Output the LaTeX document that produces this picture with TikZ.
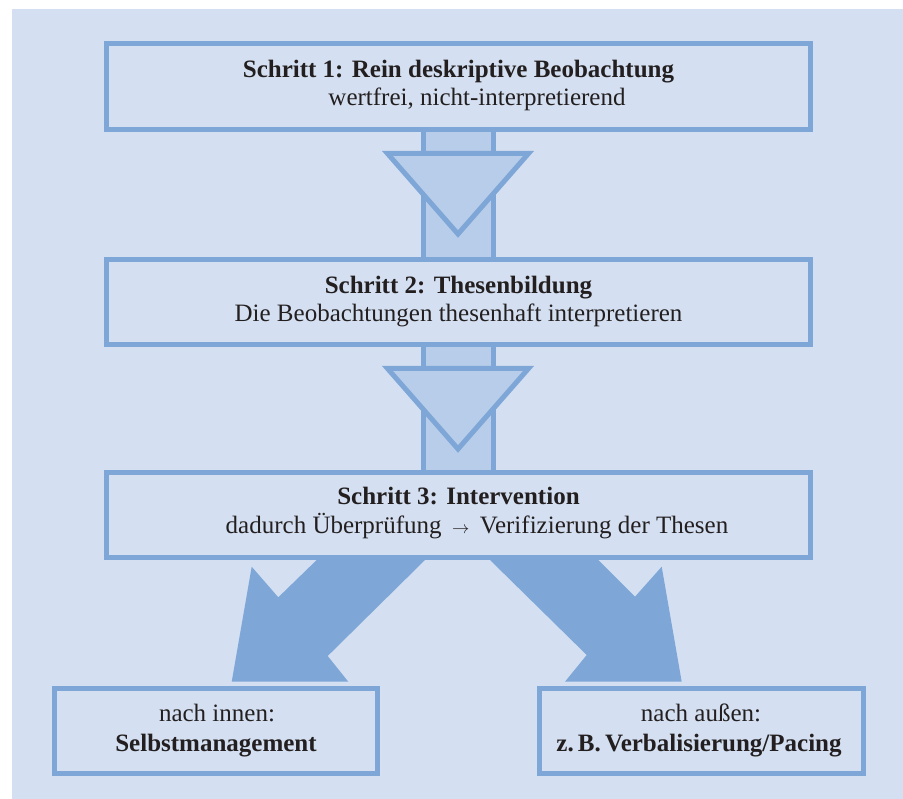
\documentclass[tikz,border=0pt]{standalone}
\usepackage{fontspec}
\setmainfont{Liberation Serif}
\definecolor{bgc}{HTML}{D4E0F1}
\definecolor{bordc}{HTML}{7EA7D8}
\definecolor{stemc}{HTML}{B8CDE9}
\definecolor{txtc}{HTML}{231F20}
\begin{document}
\begin{tikzpicture}[x=1pt,y=-1pt,
  box/.style={draw=bordc, line width=5pt, fill=bgc, rectangle, inner sep=0pt},
  txt/.style={anchor=base, inner sep=0pt, text=txtc, font=\fontsize{25}{28}\selectfont},
  bold/.style={txt, font=\fontsize{25}{28}\selectfont\bfseries},
  stemfill/.style={fill=stemc},
  stemline/.style={draw=bordc, line width=5pt},
  tri/.style={draw=bordc, fill=stemc, line width=5pt, line join=miter},
  bigarrow/.style={fill=bordc}]
\useasboundingbox (0,0) rectangle (903,799);
\fill[bgc] (12,9) rectangle (903,799);
% stems between step boxes
\fill[stemfill] (423,129.5) rectangle (493.5,259.5);
\draw[stemline] (423,129.5) -- (423,259.5) (493.5,129.5) -- (493.5,259.5);
\draw[tri] (387.5,153.5) -- (528.5,153.5) -- (458,234) -- cycle;
\fill[stemfill] (423,344.5) rectangle (493.5,472.5);
\draw[stemline] (423,344.5) -- (423,472.5) (493.5,344.5) -- (493.5,472.5);
\draw[tri] (387.5,368.5) -- (528.5,368.5) -- (458,449) -- cycle;
% big arrows
\fill[bigarrow] (425,560) -- (327.7,656) -- (348.3,681.7) -- (231.7,681.7) -- (251.7,566.7) -- (278.3,597.3) -- (316.7,560) -- cycle;
\fill[bigarrow] (490,560) -- (586.7,655) -- (565,681.7) -- (681.7,681.7) -- (661.7,566.7) -- (635,596.7) -- (598.3,560) -- cycle;
% boxes
\node[box, minimum width=704pt, minimum height=86pt] (s1) at (458.5,86.5) {};
\node[box, minimum width=704pt, minimum height=85pt] (s2) at (458.5,302) {};
\node[box, minimum width=704pt, minimum height=85pt] (s3) at (458.5,515) {};
\node[box, minimum width=323pt, minimum height=85pt] (b1) at (216,731) {};
\node[box, minimum width=324pt, minimum height=85pt] (b2) at (701.5,731) {};
% texts
\node[bold] (t1a) at (458.5,78) {Schritt 1: Rein deskriptive Beobachtung};
\node[txt] (t1b) at (477,106) {wertfrei, nicht-interpretierend};
\node[bold] (t2a) at (458.5,294) {Schritt 2: Thesenbildung};
\node[txt] (t2b) at (458.5,322) {Die Beobachtungen thesenhaft interpretieren};
\node[bold] (t3a) at (458.5,505) {Schritt 3: Intervention};
\node[txt] (t3b) at (477,533) {dadurch Überprüfung \,{\fontsize{18}{18}\selectfont$\rightarrow$}\, Verifizierung der Thesen};
\node[txt] (b1a) at (217,721) {nach innen:};
\node[bold] (b1b) at (216,751) {Selbstmanagement};
\node[txt] (b2a) at (701,721) {nach außen:};
\node[bold] (b2b) at (699,751) {z.\,B.\,Verbalisierung/Pacing};
\end{tikzpicture}
\end{document}
